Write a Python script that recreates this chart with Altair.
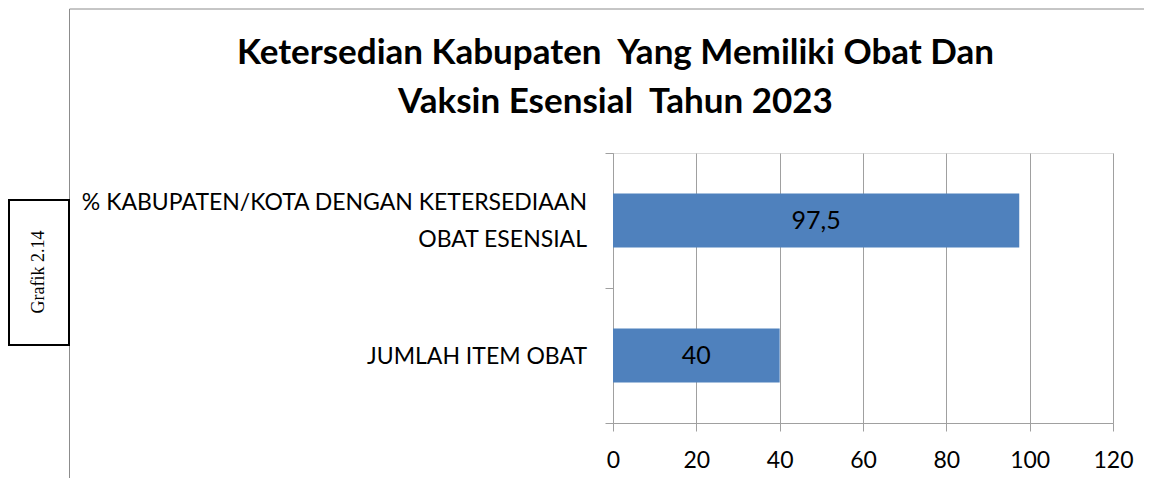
import altair as alt
import pandas as pd

categories = ["% KABUPATEN/KOTA DENGAN KETERSEDIAAN\nOBAT ESENSIAL", "JUMLAH ITEM OBAT"]
values = [97.5, 40]
value_labels = ["97,5", "40"]
x_ticks = [0, 20, 40, 60, 80, 100, 120]
title_text = "Ketersedian Kabupaten\u00a0 Yang Memiliki Obat Dan\nVaksin Esensial\u00a0 Tahun 2023"
side_label = "Grafik 2.14"

W, H = 500, 270
FONT = "Lato"
GRAY = "#A0A0A0"
BAR = "#4F81BD"

df = pd.DataFrame({"cat": categories, "val": values, "lab": value_labels})

y_enc = alt.Y(
    "cat:N",
    sort=categories,
    scale=alt.Scale(paddingInner=0, paddingOuter=0),
    axis=alt.Axis(
        title=None, domain=True, domainColor=GRAY, ticks=True, tickColor=GRAY,
        tickSize=8, bandPosition=1, tickExtra=True, labels=False, grid=False,
    ),
)
x_enc = alt.X(
    "val:Q",
    scale=alt.Scale(domain=[0, 120], nice=False),
    axis=alt.Axis(
        title=None, values=x_ticks, grid=True, gridColor=GRAY, domainColor=GRAY,
        tickColor=GRAY, tickSize=8, labelFont=FONT, labelFontSize=23,
        labelColor="black", labelPadding=18, labelFlush=False,
    ),
)

bars = alt.Chart(df).mark_bar(height={"band": 0.4}, color=BAR).encode(x=x_enc, y=y_enc)

texts = alt.Chart(df).transform_calculate(mid="datum.val / 2").mark_text(
    font=FONT, fontSize=25, color="black", baseline="middle"
).encode(x=alt.X("mid:Q"), y=alt.Y("cat:N", sort=categories), text="lab:N")

label_style = dict(font=FONT, fontSize=23, color="black", align="right",
                   baseline="middle", lineBreak="\n", lineHeight=37)
ylab_single = alt.Chart(df).transform_filter(
    "indexof(datum.cat, '\\n') < 0"
).mark_text(dy=1.5, **label_style).encode(
    x=alt.value(-26), y=alt.Y("cat:N", sort=categories), text="cat:N"
)
ylab_multi = alt.Chart(df).transform_filter(
    "indexof(datum.cat, '\\n') >= 0"
).mark_text(dy=-17.5, **label_style).encode(
    x=alt.value(-26), y=alt.Y("cat:N", sort=categories), text="cat:N"
)

one = pd.DataFrame({"k": [0]})
frame_left = alt.Chart(one).mark_rule(color="#8C8C8C", strokeWidth=1).encode(
    x=alt.value(-543.5), y=alt.value(-144), y2=alt.value(H + 60)
)
frame_top = alt.Chart(one).mark_rule(color="#8C8C8C", strokeWidth=1).encode(
    x=alt.value(-543.5), x2=alt.value(W + 40), y=alt.value(-144)
)
box = alt.Chart(one).mark_rect(fill="white", stroke="black", strokeWidth=2).encode(
    x=alt.value(-604), x2=alt.value(-544), y=alt.value(47), y2=alt.value(192)
)
side = alt.Chart(pd.DataFrame({"t": [side_label]})).mark_text(
    font="Liberation Serif", fontSize=18, color="black", angle=270,
    align="center", baseline="middle"
).encode(x=alt.value(-574), y=alt.value(119), text="t:N")
title = alt.Chart(pd.DataFrame({"t": [title_text]})).mark_text(
    font=FONT, fontSize=35, fontWeight="bold", color="black", align="center",
    baseline="alphabetic", lineBreak="\n", lineHeight=49
).encode(x=alt.value(2.5), y=alt.value(-89), text="t:N")

chart = alt.layer(
    frame_left, frame_top, bars, texts, ylab_single, ylab_multi, box, side, title
).properties(
    width=W, height=H,
    autosize=alt.AutoSizeParams(type="none"),
    padding={"left": 605, "top": 145, "right": 31, "bottom": 55},
).configure_view(stroke=None).configure(background="white")

chart.save("out.html", embed_options={"renderer": "svg", "actions": False})
